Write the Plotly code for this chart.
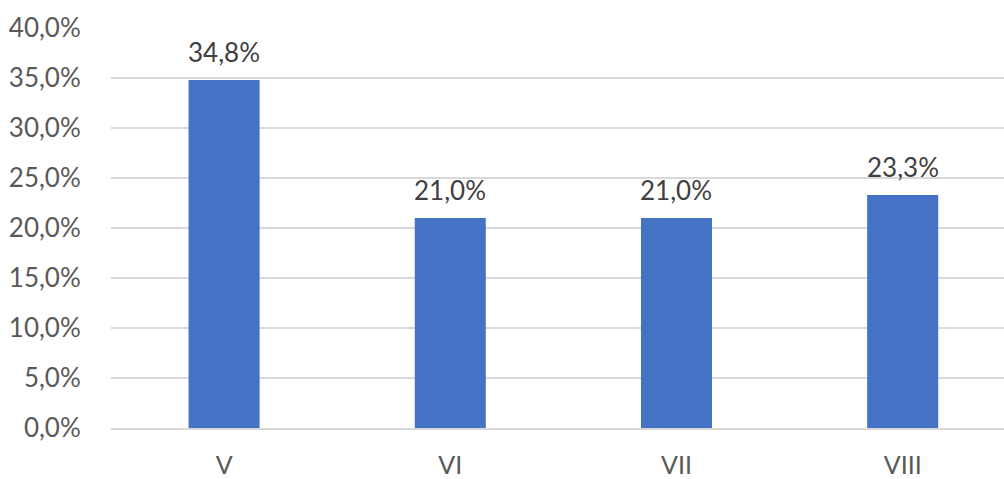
import plotly.graph_objects as go

categories = ["V", "VI", "VII", "VIII"]
values = [34.8, 21.0, 21.0, 23.3]
y_ticks = [0, 5, 10, 15, 20, 25, 30, 35, 40]

fig = go.Figure(go.Bar(
    x=categories, y=values,
    marker=dict(color="#4472C4", line=dict(width=0)),
    cliponaxis=False,
))

for c, v in zip(categories, values):
    fig.add_annotation(
        x=c, y=v, xref="x", yref="y",
        text=f"{v:.1f}".replace(".", ",") + "%",
        showarrow=False, yanchor="bottom", yshift=10,
        font=dict(family="Lato", size=26, color="#404040"),
    )

fig.update_layout(
    width=1004, height=479,
    margin=dict(l=111, r=0, t=28, b=51),
    plot_bgcolor="white", paper_bgcolor="white",
    separators=", ",
    bargap=0.686,
    showlegend=False,
    font=dict(family="Lato", size=26, color="#595959"),
)
fig.update_yaxes(
    range=[0, 40], tickvals=y_ticks,
    ticktext=[f"{t:.1f}".replace(".", ",") + "%" for t in y_ticks],
    showgrid=True, gridcolor="#d9d9d9", gridwidth=1.5,
    zeroline=False, showline=False, automargin=False,
    ticks="outside", ticklen=24, tickcolor="rgba(0,0,0,0)",
    tickfont=dict(family="Lato", size=26, color="#595959"),
)
fig.update_xaxes(
    range=[-0.5, 3.448],
    showgrid=False, zeroline=False, automargin=False,
    showline=True, linecolor="#d9d9d9", linewidth=1.5,
    ticks="outside", ticklen=14, tickcolor="rgba(0,0,0,0)",
    tickfont=dict(family="Lato", size=25, color="#595959"),
)

fig.write_html(
    "out.html",
    config={"displayModeBar": False},
    post_script="document.body.style.margin='0';document.body.style.overflow='hidden';",
)
